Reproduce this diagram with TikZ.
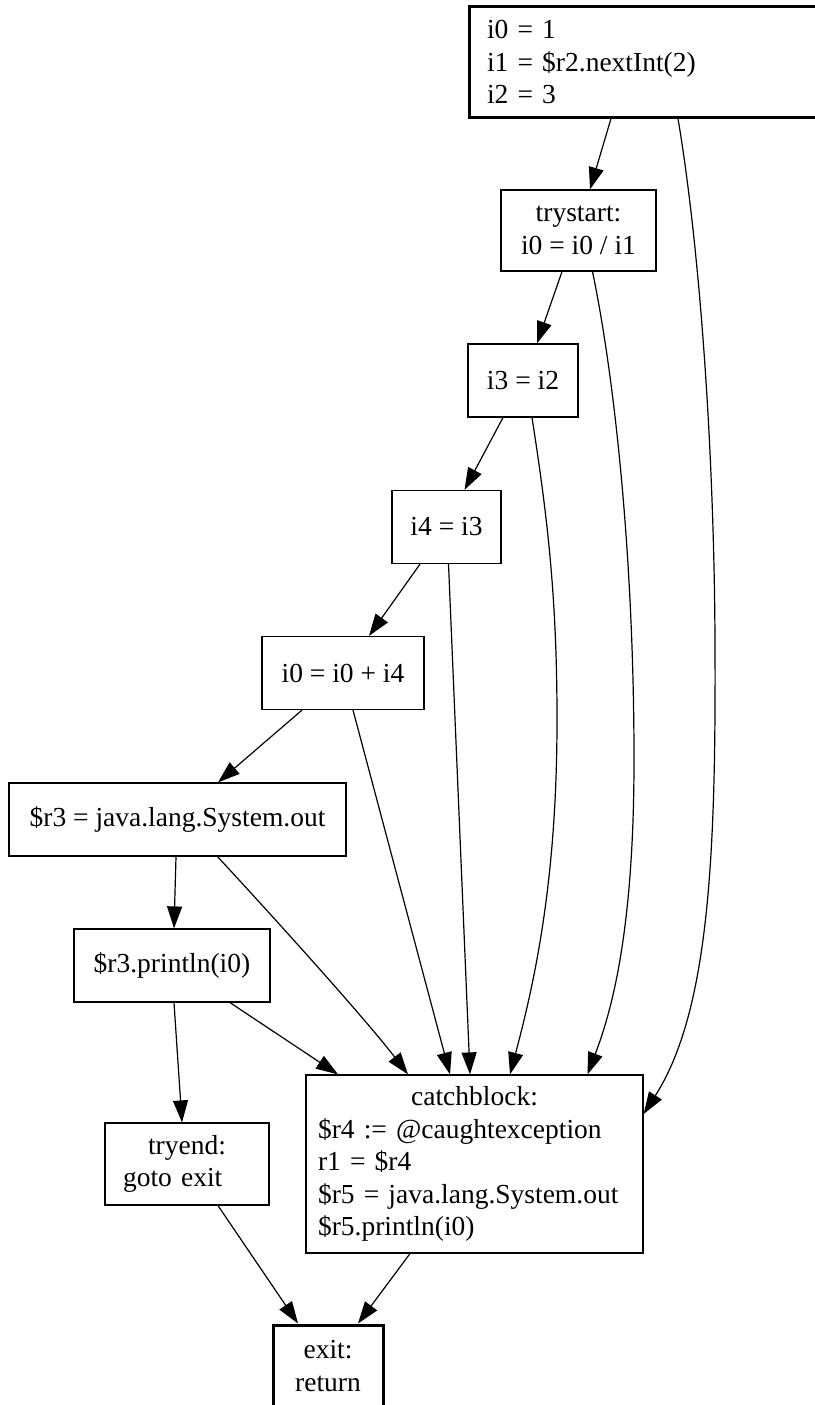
\documentclass[tikz,border=0pt]{standalone}
\usepackage{fontspec}
\setmainfont{Liberation Serif}
\usetikzlibrary{arrows.meta}

\begin{document}
\begin{tikzpicture}[x=1pt, y=-1pt,
    blk/.style={draw, line width=1.2pt, inner sep=0pt, minimum height=73pt, font=\fontsize{27.5}{32.5}\selectfont},
    bold/.style={blk, line width=3pt},
    edge/.style={line width=1.2pt, -{Triangle[length=22pt, width=15pt]}}]
    \useasboundingbox (0,0) rectangle (814,1405);
    \node (top) at (659,62) [bold, text width=344pt, inner xsep=18pt, align=left, minimum height=110pt] {i0 = 1\\ i1 = \$r2.nextInt(2)\\ i2 = 3};
    \node (trystart) at (578.5,230.5) [blk, minimum width=155pt, minimum height=81pt, align=center] {trystart:\\ i0 = i0 / i1};
    \node (i3) at (523,380.5) [blk, minimum width=110pt] {i3 = i2};
    \node (i4) at (446.5,527) [blk, minimum width=109pt] {i4 = i3};
    \node (i0i4) at (343,673) [blk, minimum width=162pt] {i0 = i0 + i4};
    \node (r3) at (177.5,819.5) [blk, minimum width=337pt] {\$r3 = java.lang.System.out};
    \node (println) at (172,965.5) [blk, minimum width=196pt] {\$r3.println(i0)};
    \node (tryend) at (187,1164) [blk, text width=128pt, inner xsep=18pt, align=left, minimum height=82pt] {\centerline{tryend:}\par goto exit};
    \node (catch) at (474.5,1164) [blk, text width=313pt, inner xsep=12pt, align=left, minimum height=178pt] {\centerline{catchblock:}\par \$r4 := @caughtexception\\ r1 = \$r4\\ \$r5 = java.lang.System.out\\ \$r5.println(i0)};
    \node (exit) at (328,1366) [bold, minimum width=110pt, minimum height=82pt, align=center] {exit:\\ return};

    \draw [edge] ([xshift=-48pt]top.south) -- ([xshift=11.5pt]trystart.north);
    \draw [edge] ([xshift=19pt]top.south) .. controls (700,250) and (714,450) .. (715,640) .. controls (716,850) and (710,1010) .. ([yshift=50pt]catch.east);
    \draw [edge] ([xshift=-16.5pt]trystart.south) -- ([xshift=14pt]i3.north);
    \draw [edge] ([xshift=14pt]trystart.south) .. controls (615,380) and (634,560) .. (634,760) .. controls (634,930) and (612,1010) .. ([xshift=113pt]catch.north);
    \draw [edge] ([xshift=-20pt]i3.south) -- ([xshift=18pt]i4.north);
    \draw [edge] ([xshift=9pt]i3.south) .. controls (548,520) and (557,600) .. (557,720) .. controls (557,880) and (535,980) .. ([xshift=35.5pt]catch.north);
    \draw [edge] ([xshift=-26.5pt]i4.south) -- ([xshift=26pt]i0i4.north);
    \draw [edge] ([xshift=2pt]i4.south) -- ([xshift=-4.5pt]catch.north);
    \draw [edge] ([xshift=-41pt]i0i4.south) -- ([xshift=40.5pt]r3.north);
    \draw [edge] ([xshift=10pt]i0i4.south) -- ([xshift=-24.5pt]catch.north);
    \draw [edge] ([xshift=-1.5pt]r3.south) -- ([xshift=2pt]println.north);
    \draw [edge] ([xshift=40pt]r3.south) .. controls (255,897) and (360,1012) .. ([xshift=-66.5pt]catch.north);
    \draw [edge] ([xshift=2pt]println.south) -- ([xshift=-5pt]tryend.north);
    \draw [edge] ([xshift=58pt]println.south) -- ([xshift=-136.5pt]catch.north);
    \draw [edge] ([xshift=31pt]tryend.south) -- ([xshift=-30pt]exit.north);
    \draw [edge] ([xshift=-64.5pt]catch.south) -- ([xshift=30pt]exit.north);
\end{tikzpicture}
\end{document}
